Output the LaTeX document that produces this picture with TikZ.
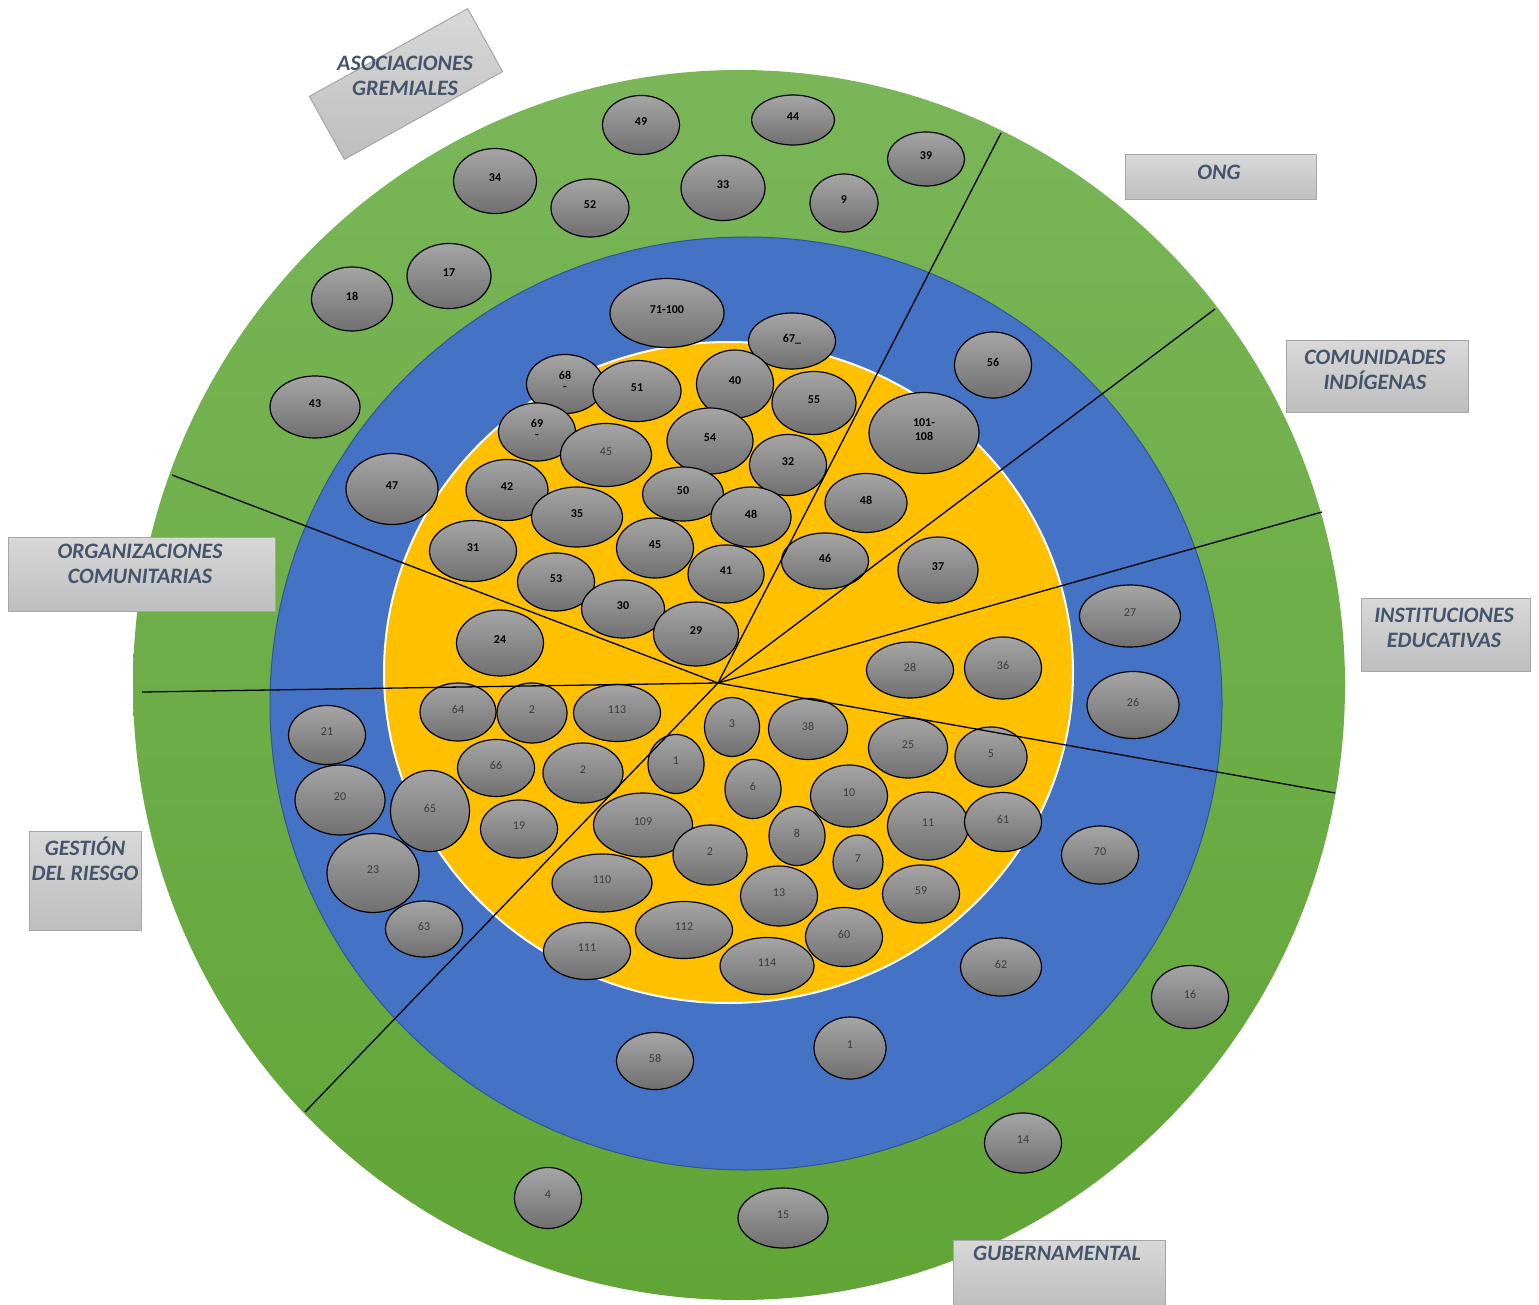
\documentclass[tikz,border=0pt]{standalone}
\usepackage{fontspec}
\setmainfont{Carlito}
\usetikzlibrary{shapes.geometric}
\definecolor{ringtop}{RGB}{122,182,88}
\definecolor{ringbot}{RGB}{96,165,54}
\definecolor{ringblue}{RGB}{68,114,196}
\definecolor{blueedge}{RGB}{47,85,151}
\definecolor{ringyellow}{RGB}{255,192,0}
\definecolor{bubtop}{RGB}{165,165,165}
\definecolor{bubbot}{RGB}{112,112,112}
\definecolor{tagtop}{RGB}{216,216,216}
\definecolor{tagbot}{RGB}{190,190,190}
\definecolor{tagline}{RGB}{166,166,166}
\definecolor{tagblue}{RGB}{68,84,106}
\definecolor{numgray}{RGB}{60,60,60}
\tikzset{
	bubble/.style={ellipse, draw=black, line width=1.2pt, top color=bubtop, bottom color=bubbot, inner sep=0pt, text=numgray, font=\fontsize{12}{12}\selectfont, text depth=6pt, align=center},
	dark/.style={text=black, font=\fontsize{12}{12}\selectfont\bfseries},
	sz/.style 2 args={minimum width=#1, minimum height=#2},
	tagbox/.style={draw=tagline, line width=1pt, top color=tagtop, bottom color=tagbot, inner sep=0pt},
	tagtext/.style={text=tagblue, font=\fontsize{22}{25}\selectfont\bfseries\itshape, align=center, inner sep=0pt},
	divider/.style={draw=black, line width=1.3pt},
}

\begin{document}
\begin{tikzpicture}[x=1pt, y=-1pt]
			\useasboundingbox (0,0) rectangle (1539,1305);
			
			% rings
			\shade[top color=ringtop, bottom color=ringbot] (739,685) ellipse [x radius=606, y radius=615];
			\draw[draw=blueedge, fill=ringblue, line width=1pt] (746,703.5) ellipse [x radius=476, y radius=466.5];
			\draw[draw=white, fill=ringyellow, line width=2pt] (728.5,672.5) ellipse [x radius=344.5, y radius=330.5];
			
			% outer ring
			\node [bubble, dark, sz={77}{59}] (b49) at (641,125) {49};
			\node [bubble, dark, sz={83}{50}] (b44) at (793,120) {44};
			\node [bubble, dark, sz={77}{54}] (b39) at (926,159) {39};
			\node [bubble, dark, sz={83}{65}] (b34) at (495,181) {34};
			\node [bubble, dark, sz={78}{58}] (b52) at (590,208) {52};
			\node [bubble, dark, sz={84}{65}] (b33) at (723,188) {33};
			\node [bubble, dark, sz={68}{58}] (b9) at (844,203) {9};
			\node [bubble, dark, sz={84}{65}] (b17) at (449,276) {17};
			\node [bubble, dark, sz={81}{64}] (b18) at (352,299) {18};
			\node [bubble, dark, sz={90}{62}] (b43) at (315,407) {43};
			\node [bubble, sz={77}{63}] (b16) at (1190,997) {16};
			\node [bubble, sz={77}{60}] (b14) at (1023,1143) {14};
			\node [bubble, sz={67}{61}] (b4) at (548,1198) {4};
			\node [bubble, sz={90}{60}] (b15) at (783,1218) {15};
			
			% middle ring
			\node [bubble, dark, sz={114}{69}] (b71) at (667,313) {71-100};
			\node [bubble, dark, sz={87}{56}] (b67) at (792,341) {67\_};
			\node [bubble, dark, sz={77}{66}] (b56) at (993,365) {56};
			\node [bubble, dark, sz={110}{81}] (b101) at (924,433) {101-\\[2pt]108};
			\node [bubble, dark, sz={92}{71}] (b47) at (392,489) {47};
			\node [bubble, sz={101}{62}] (b27) at (1130,616) {27};
			\node [bubble, sz={92}{67}] (b26) at (1133,705) {26};
			\node [bubble, sz={77}{59}] (b21) at (327,735) {21};
			\node [bubble, sz={90}{70}] (b20) at (340,800) {20};
			\node [bubble, sz={92}{79}] (b23) at (373,873) {23};
			\node [bubble, sz={79}{81}] (b65) at (430,811) {65};
			\node [bubble, sz={77}{56}] (b63) at (424,929) {63};
			\node [bubble, sz={77}{58}] (b70) at (1100,855) {70};
			\node [bubble, sz={81}{58}] (b62) at (1001,967) {62};
			\node [bubble, sz={77}{57}] (b58) at (655,1061) {58};
			\node [bubble, sz={72}{62}] (b1b) at (850,1048) {1};
			
			% inner circle, upper half
			\node [bubble, dark, sz={77}{59}] (b68) at (565,384) {68\\[-1pt]-};
			\node [bubble, dark, sz={88}{61}] (b51) at (637,391) {51};
			\node [bubble, dark, sz={77}{68}] (b40) at (735,384) {40};
			\node [bubble, dark, sz={84}{63}] (b55) at (814,403) {55};
			\node [bubble, dark, sz={77}{58}] (b69) at (537,432) {69\\[-1pt]-};
			\node [bubble, sz={91}{63}] (b45a) at (606,455) {45};
			\node [bubble, dark, sz={86}{66}] (b54) at (710,441) {54};
			\node [bubble, dark, sz={77}{61}] (b32) at (788,465) {32};
			\node [bubble, dark, sz={82}{61}] (b42) at (507,490) {42};
			\node [bubble, dark, sz={91}{60}] (b35) at (577,517) {35};
			\node [bubble, dark, sz={81}{54}] (b50) at (683,494) {50};
			\node [bubble, dark, sz={80}{60}] (b48a) at (751,517) {48};
			\node [bubble, dark, sz={82}{59}] (b48b) at (866,503) {48};
			\node [bubble, dark, sz={87}{61}] (b31) at (473,551) {31};
			\node [bubble, dark, sz={77}{60}] (b45b) at (655,548) {45};
			\node [bubble, dark, sz={76}{58}] (b41) at (726,574) {41};
			\node [bubble, dark, sz={87}{56}] (b46) at (825,561) {46};
			\node [bubble, dark, sz={80}{66}] (b37) at (938,570) {37};
			\node [bubble, dark, sz={77}{58}] (b53) at (556,582) {53};
			\node [bubble, dark, sz={83}{58}] (b30) at (623,609) {30};
			\node [bubble, dark, sz={85}{64}] (b29) at (696,634) {29};
			\node [bubble, dark, sz={87}{66}] (b24) at (500,643) {24};
			\node [bubble, sz={87}{56}] (b28) at (910,670) {28};
			\node [bubble, sz={77}{62}] (b36) at (1003,668) {36};
			
			% inner circle, lower half
			\node [bubble, sz={76}{58}] (b64) at (458,712) {64};
			\node [bubble, sz={70}{60}] (b2a) at (532,713) {2};
			\node [bubble, sz={87}{57}] (b113) at (617,713) {113};
			\node [bubble, sz={55}{59}] (b3) at (732,727) {3};
			\node [bubble, sz={79}{61}] (b38) at (808,729) {38};
			\node [bubble, sz={79}{60}] (b25) at (908,748) {25};
			\node [bubble, sz={72}{60}] (b5) at (991,757) {5};
			\node [bubble, sz={77}{57}] (b66) at (496,768) {66};
			\node [bubble, sz={80}{60}] (b2b) at (583,773) {2};
			\node [bubble, sz={56}{59}] (b1a) at (676,764) {1};
			\node [bubble, sz={56}{59}] (b6) at (753,789) {6};
			\node [bubble, sz={77}{62}] (b10) at (849,796) {10};
			\node [bubble, sz={81}{68}] (b11) at (928,826) {11};
			\node [bubble, sz={77}{59}] (b61) at (1003,822) {61};
			\node [bubble, sz={77}{58}] (b19) at (519,829) {19};
			\node [bubble, sz={99}{64}] (b109) at (643,825) {109};
			\node [bubble, sz={56}{59}] (b8) at (797,836) {8};
			\node [bubble, sz={74}{60}] (b2c) at (710,855) {2};
			\node [bubble, sz={50}{54}] (b7) at (858,862) {7};
			\node [bubble, sz={77}{58}] (b59) at (921,894) {59};
			\node [bubble, sz={100}{58}] (b110) at (602,883) {110};
			\node [bubble, sz={77}{60}] (b13) at (779,896) {13};
			\node [bubble, sz={97}{57}] (b112) at (684,930) {112};
			\node [bubble, sz={77}{59}] (b60) at (844,937) {60};
			\node [bubble, sz={87}{57}] (b111) at (587,951) {111};
			\node [bubble, sz={94}{57}] (b114) at (767,966) {114};
			
			% sector lines
			\coordinate (hub) at (718,683);
			\coordinate (cutONG) at (1001,133);
			\coordinate (cutCOM) at (1215,309);
			\coordinate (cutINS) at (1322,512);
			\coordinate (cutGUB) at (1335,793);
			\coordinate (cutGES) at (305,1112);
			\coordinate (cutORG) at (142,692);
			\coordinate (cutASO) at (172,475);
			\draw [divider] (hub) -- (cutONG);
			\draw [divider] (hub) -- (cutCOM);
			\draw [divider] (hub) -- (cutINS);
			\draw [divider] (hub) -- (cutGUB);
			\draw [divider] (hub) -- (cutGES);
			\draw [divider] (hub) -- (cutORG);
			\draw [divider] (hub) -- (cutASO);
			
			% sector names
			\node [tagbox, rotate=29, minimum width=181, minimum height=72] (ASObox) at (406,84) {};
			\node [tagtext] (ASO) at (405,76) {ASOCIACIONES\\GREMIALES};
			\node [tagbox, minimum width=191, minimum height=45] (ONGbox) at (1220.5,177.5) {};
			\node [tagtext] (ONG) at (1219,172) {ONG};
			\node [tagbox, minimum width=182, minimum height=71] (COMbox) at (1377,376.5) {};
			\node [tagtext] (COM) at (1375,369.5) {COMUNIDADES\\INDÍGENAS};
			\node [tagbox, minimum width=169, minimum height=73] (INSbox) at (1445.5,634.5) {};
			\node [tagtext] (INS) at (1444,627.5) {INSTITUCIONES\\EDUCATIVAS};
			\node [tagbox, minimum width=267, minimum height=74] (ORGbox) at (141.5,574) {};
			\node [tagtext] (ORG) at (140,563.5) {ORGANIZACIONES\\COMUNITARIAS};
			\node [tagbox, minimum width=112, minimum height=99] (GESbox) at (85,880.5) {};
			\node [tagtext] (GES) at (85,859) {GESTIÓN\\DEL RIESGO};
			\node [tagbox, minimum width=212, minimum height=65] (GUBbox) at (1059,1272.5) {};
			\node [tagtext] (GUB) at (1057,1253) {GUBERNAMENTAL};
			
		\end{tikzpicture}
\end{document}
